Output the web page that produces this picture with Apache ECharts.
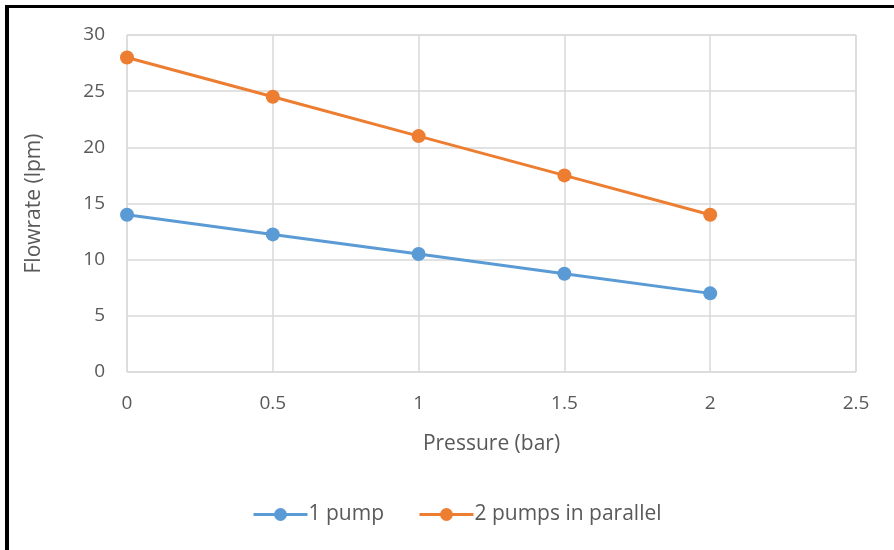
<!DOCTYPE html>
<html>
<head>
<meta charset="utf-8">
<script src="https://cdn.jsdelivr.net/npm/echarts@6/dist/echarts.min.js"></script>
<style>
  html, body { margin: 0; padding: 0; background: #fff; }
  #chart { width: 894px; height: 550px; }
</style>
</head>
<body>
<div id="chart"></div>
<script>
// data
const pressure = [0, 0.5, 1, 1.5, 2];
const onePump = [14, 12.25, 10.5, 8.75, 7];
const twoPumps = [28, 24.5, 21, 17.5, 14];
const seriesNames = ["1 pump", "2 pumps in parallel"];

const textColor = "#595959";
const font = "Open Sans";

const chart = echarts.init(document.getElementById("chart"));

const pairs = (xs, ys) => xs.map((x, i) => [x, ys[i]]);

const lineSeries = (name, values, color) => ({
  name: name,
  type: "line",
  data: pairs(pressure, values),
  symbol: "circle",
  symbolSize: 14,
  lineStyle: { color: color, width: 3 },
  itemStyle: { color: color },
  animation: false,
});

chart.setOption({
  backgroundColor: "#fff",
  textStyle: { fontFamily: font },
  grid: { left: 127, right: 38, top: 35, bottom: 178, show: true, borderColor: "#d9d9d9", borderWidth: 1 },
  xAxis: {
    type: "value",
    min: 0,
    max: 2.5,
    interval: 0.5,
    name: "Pressure (bar)",
    nameLocation: "middle",
    nameGap: 62,
    nameTextStyle: { fontSize: 21, color: textColor, fontFamily: font },
    axisLine: { show: false },
    axisTick: { show: false },
    axisLabel: { fontSize: 19, color: textColor, margin: 22, fontFamily: font },
    splitLine: { lineStyle: { color: "#d9d9d9", width: 1.5 } },
  },
  yAxis: {
    type: "value",
    min: 0,
    max: 30,
    interval: 5,
    name: "Flowrate (lpm)",
    nameLocation: "middle",
    nameGap: 82,
    nameRotate: 90,
    nameTextStyle: { fontSize: 21, color: textColor, fontFamily: font },
    axisLine: { show: false },
    axisTick: { show: false },
    axisLabel: { fontSize: 19, color: textColor, margin: 22, fontFamily: font },
    splitLine: { lineStyle: { color: "#d9d9d9", width: 1.5 } },
  },
  legend: {
    bottom: 20,
    left: 247,
    itemWidth: 54,
    itemHeight: 16,
    itemGap: 34,
    lineStyle: { width: 3 },
    textStyle: { fontSize: 21, color: textColor, fontFamily: font, padding: [0, 0, 0, -4] },
    data: seriesNames,
  },
  graphic: [
    { type: "rect", shape: { x: 5, y: 5, width: 4, height: 545 }, style: { fill: "#000" } },
    { type: "rect", shape: { x: 5, y: 5, width: 889, height: 3 }, style: { fill: "#000" } },
  ],
  series: [
    lineSeries(seriesNames[0], onePump, "#5b9bd5"),
    lineSeries(seriesNames[1], twoPumps, "#ed7d31"),
  ],
});
</script>
</body>
</html>
